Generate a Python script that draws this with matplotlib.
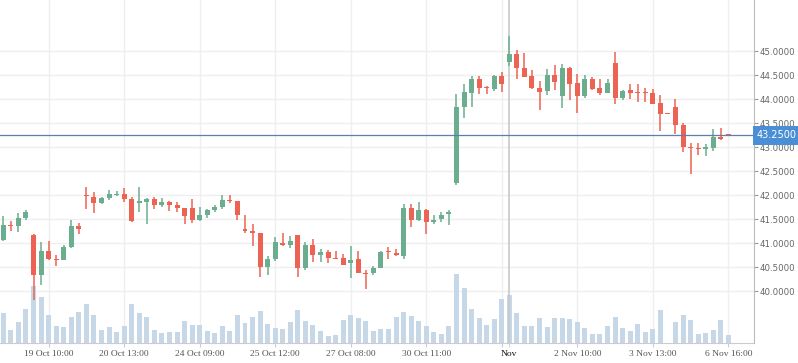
import matplotlib
matplotlib.use("Agg")
import matplotlib.pyplot as plt
import matplotlib.transforms as mtrans
import numpy as np

# OHLC per bar
opens = [41.07, 41.39, 41.37, 41.53, 41.17, 40.35, 40.84, 40.68, 40.66, 40.92,
         41.36, 42.00, 41.97, 41.84, 41.94, 42.01, 42.03, 41.92, 41.85, 41.86,
         41.92, 41.80, 41.86, 41.80, 41.74, 41.74, 41.49, 41.60, 41.69, 41.76,
         41.91, 41.88, 41.30, 41.26, 41.22, 40.51, 40.67, 41.01, 40.97, 41.17,
         40.49, 40.97, 40.76, 40.82, 40.69, 40.69, 40.59, 40.67, 40.38, 40.38,
         40.49, 40.83, 40.80, 40.74, 41.74, 41.49, 41.69, 41.44, 41.51, 41.61,
         42.25, 43.85, 44.14, 44.43, 44.24, 44.22, 44.49, 44.78, 44.95, 44.66,
         44.49, 44.24, 44.18, 44.51, 44.08, 44.66, 44.35, 44.06, 44.43, 44.24,
         44.14, 44.76, 44.03, 44.20, 44.14, 44.14, 44.14, 43.93, 43.70, 43.85,
         43.47, 43.00, 42.99, 42.97, 42.99, 43.22, 43.26]
highs = [41.57, 41.47, 41.63, 41.69, 41.19, 41.03, 41.05, 40.76, 40.97, 41.49,
         41.42, 42.18, 42.07, 41.97, 42.11, 42.09, 42.15, 41.97, 42.17, 41.94,
         41.97, 41.94, 41.88, 41.86, 41.74, 41.92, 41.76, 41.72, 41.80, 42.01,
         42.01, 41.88, 41.59, 41.40, 41.22, 40.74, 41.13, 41.22, 41.15, 41.17,
         41.03, 41.09, 40.88, 40.86, 40.84, 40.78, 40.94, 40.84, 40.44, 40.53,
         40.84, 40.92, 40.88, 41.82, 41.82, 41.86, 41.72, 41.59, 41.65, 41.69,
         44.12, 44.33, 44.49, 44.49, 44.28, 44.51, 44.58, 45.33, 45.03, 44.97,
         44.62, 44.39, 44.64, 44.72, 44.74, 44.68, 44.53, 44.51, 44.47, 44.43,
         44.43, 44.99, 44.20, 44.33, 44.31, 44.24, 44.22, 44.10, 43.70, 44.01,
         43.51, 43.10, 43.10, 43.08, 43.39, 43.41, 43.26]
lows = [41.05, 41.26, 41.24, 41.49, 39.81, 40.14, 40.65, 40.53, 40.65, 40.91,
        41.19, 41.72, 41.63, 41.82, 41.90, 41.99, 41.86, 41.44, 41.65, 41.40,
        41.72, 41.76, 41.67, 41.65, 41.40, 41.42, 41.47, 41.53, 41.65, 41.72,
        41.84, 41.49, 41.22, 40.94, 40.30, 40.34, 40.63, 40.94, 40.90, 40.30,
        40.44, 40.61, 40.61, 40.59, 40.67, 40.55, 40.28, 40.38, 40.05, 40.34,
        40.49, 40.67, 40.74, 40.67, 41.34, 41.47, 41.19, 41.40, 41.44, 41.38,
        42.21, 43.62, 43.85, 44.12, 44.12, 44.18, 44.16, 44.70, 44.43, 44.47,
        44.22, 43.78, 44.10, 44.20, 43.81, 43.99, 43.72, 44.03, 44.20, 44.10,
        44.14, 43.91, 43.99, 44.01, 43.95, 43.95, 43.91, 43.35, 43.69, 43.28,
        42.91, 42.45, 42.85, 42.81, 42.93, 43.16, 43.25]
closes = [41.38, 41.37, 41.53, 41.65, 40.35, 40.84, 40.67, 40.66, 40.92, 41.36,
          41.30, 41.98, 41.84, 41.94, 42.03, 42.02, 41.92, 41.47, 41.87, 41.92,
          41.80, 41.86, 41.80, 41.74, 41.56, 41.49, 41.59, 41.69, 41.76, 41.90,
          41.89, 41.60, 41.26, 41.22, 40.51, 40.67, 41.03, 40.97, 41.05, 40.49,
          40.97, 40.76, 40.82, 40.69, 40.68, 40.55, 40.65, 40.38, 40.37, 40.49,
          40.82, 40.81, 40.76, 41.74, 41.49, 41.69, 41.44, 41.49, 41.59, 41.65,
          43.85, 44.16, 44.43, 44.24, 44.23, 44.49, 44.33, 44.95, 44.66, 44.47,
          44.24, 44.16, 44.51, 44.37, 44.66, 44.33, 44.06, 44.43, 44.22, 44.14,
          44.35, 44.03, 44.18, 44.14, 44.13, 44.13, 43.91, 43.70, 43.69, 43.47,
          43.01, 42.99, 42.97, 43.00, 43.22, 43.18, 43.25]
volumes = [297, 127, 207, 337, 567, 457, 277, 167, 157, 257,
           307, 387, 277, 127, 157, 107, 167, 387, 297, 257,
           127, 97, 107, 107, 217, 177, 177, 117, 97, 167,
           117, 277, 197, 257, 317, 187, 147, 137, 207, 327,
           217, 177, 117, 67, 77, 227, 277, 247, 217, 117,
           137, 137, 257, 307, 267, 217, 167, 107, 87, 167,
           687, 547, 337, 247, 177, 237, 437, 477, 297, 167,
           167, 247, 157, 247, 247, 237, 207, 147, 87, 87,
           167, 257, 147, 117, 187, 107, 137, 327, 0, 207,
           277, 227, 87, 97, 127, 227, 77]

tick_pos = [6, 16, 26, 36, 46, 56, 66, 76, 86, 96]
tick_labels = ["19 Oct 10:00", "20 Oct 13:00", "24 Oct 09:00", "25 Oct 12:00",
               "27 Oct 08:00", "30 Oct 11:00", "", "2 Nov 10:00",
               "3 Nov 13:00", "6 Nov 16:00"]
price_levels = [40.0, 40.5, 41.0, 41.5, 42.0, 42.5, 43.0, 43.5, 44.0, 44.5, 45.0]
cross_x = 67
cross_label = "Nov"
last_price = 43.25

UP = "#6aae8f"
DOWN = "#ed6353"
VOL = "#c6d7e8"
GRID = "#efefef"

fig = plt.figure(figsize=(7.98, 3.63), dpi=100)
axv = fig.add_axes([0.0, 0.0559, 0.9449, 0.9441])
ax = axv.twinx()

n = len(opens)
x = np.arange(n)

# volume bars on the lower axes
axv.bar(x, volumes, width=0.66, color=VOL, zorder=2)
axv.set_ylim(0, 3427)
axv.set_xlim(-0.44, 99.4)
axv.set_yticks([])

# grid (kept under the bars)
axv.set_xticks(tick_pos)
axv.set_xticklabels(tick_labels, family="Liberation Serif", fontsize=6.8, color="#555555")
axv.set_xticks([cross_x], minor=True)
axv.set_xticklabels([cross_label], minor=True, family="Liberation Serif", fontsize=6.8, color="#111111")
axv.tick_params(axis="x", which="both", length=3, color="#cccccc", pad=2)
for p in tick_pos:
    axv.axvline(p, color=GRID, lw=1, zorder=0)
blend = mtrans.blended_transform_factory(axv.transAxes, ax.transData)
for lvl in price_levels:
    axv.plot([0, 1], [lvl, lvl], transform=blend, color=GRID, lw=1, zorder=0)

for side in ["left", "top", "right"]:
    axv.spines[side].set_visible(False)
axv.spines["bottom"].set_color("#cccccc")

# candles on the upper axes
ax.set_ylim(38.93, 46.07)
ax.patch.set_visible(False)
ax.axvline(cross_x, color="#c8c8c8", lw=1.2, zorder=1)
colors = [UP if c >= o else DOWN for o, c in zip(opens, closes)]
ax.vlines(x, lows, highs, colors=colors, lw=1.1, zorder=3)
bottoms = np.minimum(opens, closes)
heights = np.maximum(np.abs(np.array(closes) - np.array(opens)), 0.022)
ax.bar(x, heights, bottom=bottoms, width=0.66, color=colors, zorder=4)

ax.axhline(last_price, color="#5b7fae", lw=0.9, zorder=5)

ax.set_yticks(price_levels)
ax.set_yticklabels(["%.4f" % v for v in price_levels])
ax.tick_params(axis="y", length=3, color="#999999", labelcolor="#666666", labelsize=6.2, pad=1)
for side in ["left", "top", "bottom"]:
    ax.spines[side].set_visible(False)
ax.spines["right"].set_color("#bbbbbb")

ax.text(1.004, last_price, "%.4f" % last_price,
        transform=mtrans.blended_transform_factory(ax.transAxes, ax.transData),
        ha="left", va="center", fontsize=7.0, color="white", zorder=10, clip_on=False,
        bbox=dict(boxstyle="square,pad=0.45", fc="#4a8fd6", ec="none"))

fig.savefig("out.png", dpi=100)
